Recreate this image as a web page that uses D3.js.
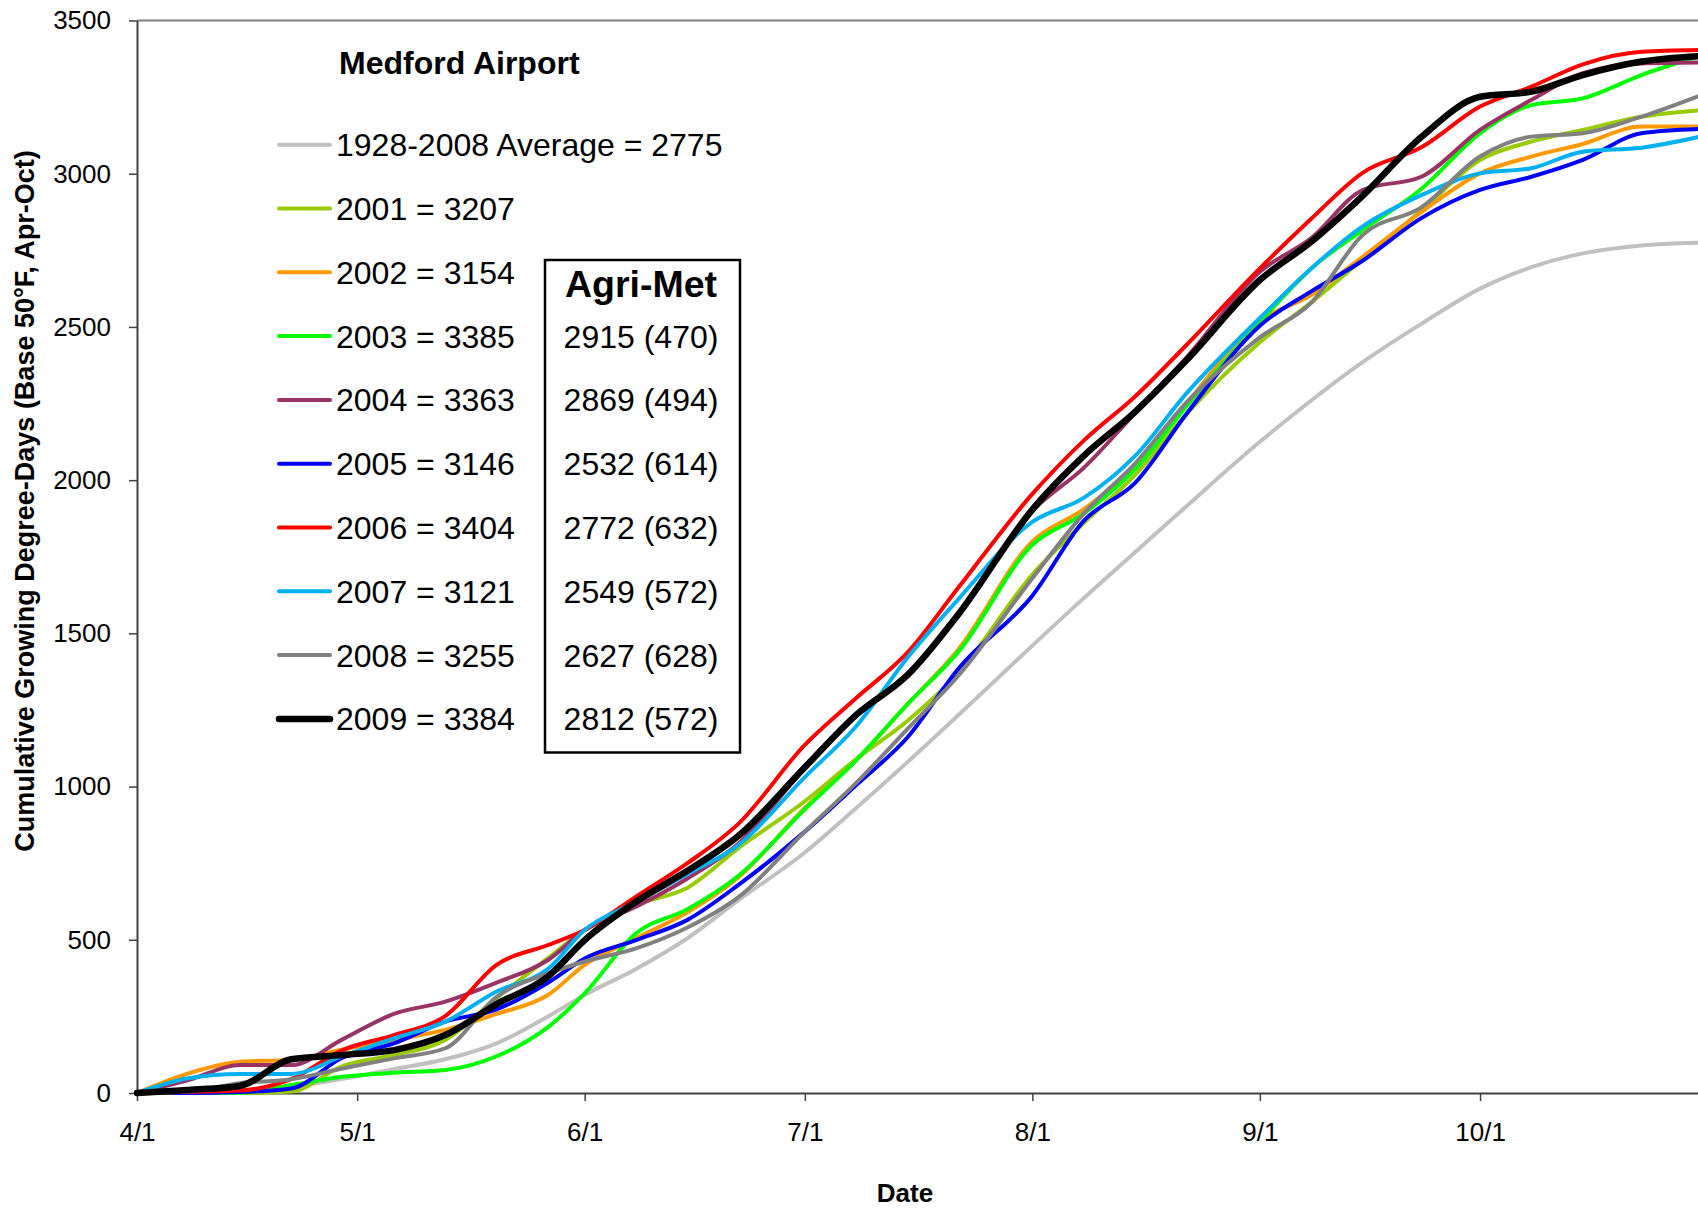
<!DOCTYPE html>
<html><head><meta charset="utf-8">
<script src="https://cdnjs.cloudflare.com/ajax/libs/d3/7.8.5/d3.min.js"></script>
<style>
body{margin:0;background:#fff}
svg{display:block}
text{font-family:"Liberation Sans",Arial,Helvetica,sans-serif;fill:#000}
</style></head>
<body>
<svg id="c" width="1698" height="1209"></svg>
<script>
// ---- data (days after April 1) ----
const days = [0,7,14,21,28,35,42,49,56,61,68,75,82,91,98,105,112,122,129,136,143,153,160,167,175,183,190,197,205,213];
const avg1928_2008 = [0,2,8,20,46,78,110,162,250,320,405,505,630,785,930,1080,1235,1460,1615,1765,1915,2125,2260,2385,2510,2625,2695,2740,2766,2775];
const gdd2001 = [0,0,0,5,88,124,173,310,440,532,615,670,800,952,1090,1215,1373,1692,1860,2017,2216,2450,2580,2720,2880,3045,3105,3143,3186,3207];
const gdd2002 = [0,64,102,108,142,173,206,258,320,418,505,590,705,930,1086,1269,1450,1800,1905,2045,2250,2520,2604,2729,2875,3001,3056,3097,3154,3154];
const gdd2003 = [0,0,0,26,53,66,75,120,215,325,521,600,710,926,1086,1269,1442,1789,1891,2036,2241,2516,2691,2816,2950,3132,3224,3246,3322,3385];
const gdd2004 = [0,42,91,91,175,258,298,360,434,532,608,700,815,1060,1234,1370,1560,1899,2040,2219,2400,2680,2790,2947,2990,3143,3241,3328,3360,3363];
const gdd2005 = [0,0,3,15,115,162,233,273,360,439,499,565,680,853,1005,1161,1387,1623,1867,1991,2216,2504,2616,2716,2855,2947,2990,3045,3132,3146];
const gdd2006 = [0,4,8,45,140,189,251,418,483,532,641,750,880,1136,1289,1438,1652,1955,2129,2273,2441,2691,2853,3003,3086,3219,3284,3357,3398,3404];
const gdd2007 = [0,48,62,62,120,178,233,331,405,532,624,715,810,1031,1197,1421,1614,1864,1942,2079,2283,2529,2691,2828,2930,3001,3018,3072,3085,3121];
const gdd2008 = [0,5,32,45,80,113,146,314,390,429,472,540,640,853,1012,1188,1364,1680,1891,2054,2254,2466,2579,2800,2890,3056,3121,3132,3186,3255];
const gdd2009 = [0,10,23,110,124,140,189,290,380,499,624,725,840,1063,1234,1364,1565,1904,2079,2223,2391,2653,2778,2928,3120,3251,3268,3322,3366,3384];

const legendLabels = ["1928-2008 Average = 2775","2001 = 3207","2002 = 3154","2003 = 3385","2004 = 3363","2005 = 3146","2006 = 3404","2007 = 3121","2008 = 3255","2009 = 3384"];
const agriMetLabels = ["2915 (470)","2869 (494)","2532 (614)","2772 (632)","2549 (572)","2627 (628)","2812 (572)"];
const yTicks = [0,500,1000,1500,2000,2500,3000,3500];
const xTickMonths = [3,4,5,6,7,8,9]; // Apr..Oct (0-based month)

const seriesValues = [avg1928_2008,gdd2001,gdd2002,gdd2003,gdd2004,gdd2005,gdd2006,gdd2007,gdd2008,gdd2009];
const colors = ["#C0C0C0","#99CC00","#FF9900","#00FF00","#993366","#0000FF","#FF0000","#00B0F0","#808080","#000000"];
const widths = [4,4,4,4,4,4,4,4,4,6.5];

// ---- chart ----
const svg = d3.select("#c");
const start = new Date(Date.UTC(2009,3,1));
const dateOf = d => d3.utcDay.offset(start, d);
const x = d3.scaleUtc().domain([start, dateOf(213)]).range([137, 137 + 213*7.339]);
const y = d3.scaleLinear().domain([0,3500]).range([1093,20.5]);

svg.append("rect").attr("width",1698).attr("height",1209).attr("fill","#fff");

// top border of plot area
svg.append("line").attr("x1",137).attr("x2",1698).attr("y1",y(3500)).attr("y2",y(3500))
  .attr("stroke","#808080").attr("stroke-width",2);

// axes
const yAxis = svg.append("g").attr("transform","translate(137,0)")
  .call(d3.axisLeft(y).tickValues(yTicks).tickSize(8).tickSizeOuter(0).tickPadding(18).tickFormat(d3.format("d")));
const xAxis = svg.append("g").attr("transform","translate(0,1093)")
  .call(d3.axisBottom(x).tickValues(xTickMonths.map(m=>new Date(Date.UTC(2009,m,1))))
    .tickSize(8).tickSizeOuter(0).tickPadding(22).tickFormat(d3.utcFormat("%-m/%-d")));
[yAxis,xAxis].forEach(g=>{
  g.attr("font-family",null).attr("font-size",null);
  g.select(".domain").attr("stroke","#404040").attr("stroke-width",2);
  g.selectAll(".tick line").attr("stroke","#404040").attr("stroke-width",1.5);
  g.selectAll(".tick text").style("font-size","26px").attr("fill","#000");
});

// series lines
const line = d3.line().x((d,i)=>x(dateOf(days[i]))).y(d=>y(d)).curve(d3.curveMonotoneX);
seriesValues.forEach((vals,i)=>{
  svg.append("path").attr("d",line(vals)).attr("fill","none")
    .attr("stroke",colors[i]).attr("stroke-width",widths[i])
    .attr("stroke-linejoin","round").attr("stroke-linecap","round");
});

// axis titles
svg.append("text").attr("transform","translate(34,501) rotate(-90)")
  .attr("text-anchor","middle").style("font-size","27px").style("font-weight","bold")
  .text("Cumulative Growing Degree-Days (Base 50°F, Apr-Oct)");
svg.append("text").attr("x",905).attr("y",1202).attr("text-anchor","middle")
  .style("font-size","26px").style("font-weight","bold").text("Date");

// legend
svg.append("text").attr("x",339).attr("y",74).style("font-size","32px").style("font-weight","bold").text("Medford Airport");
const lg = svg.append("g");
legendLabels.forEach((lab,i)=>{
  const ly = 144.7 + i*63.8;
  lg.append("line").attr("x1",279).attr("x2",330).attr("y1",ly).attr("y2",ly)
    .attr("stroke",colors[i]).attr("stroke-width",widths[i]).attr("stroke-linecap","round");
  lg.append("text").attr("x",336).attr("y",ly+11.5).style("font-size","32px").text(lab);
});

// Agri-Met box
svg.append("rect").attr("x",545).attr("y",260).attr("width",195).attr("height",492.5)
  .attr("fill","#fff").attr("stroke","#000").attr("stroke-width",2.5);
svg.append("text").attr("x",641).attr("y",297).attr("text-anchor","middle")
  .style("font-size","37.5px").style("font-weight","bold").text("Agri-Met");
agriMetLabels.forEach((lab,i)=>{
  const ly = 144.7 + (i+3)*63.8;
  svg.append("text").attr("x",641).attr("y",ly+11.5).attr("text-anchor","middle").style("font-size","32px").text(lab);
});
</script>
</body></html>
